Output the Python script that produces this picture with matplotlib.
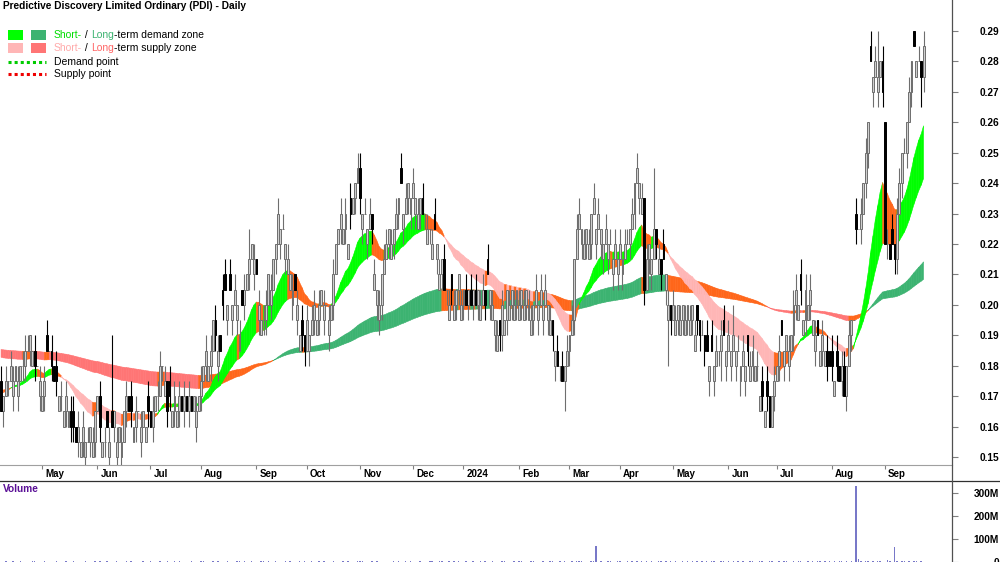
import numpy as np
import pandas as pd
import matplotlib
matplotlib.use("Agg")
import matplotlib.pyplot as plt
from matplotlib.collections import PolyCollection
from matplotlib.lines import Line2D
from matplotlib.patches import Rectangle
import matplotlib.transforms as mtransforms

plt.rcParams['font.family'] = ['Liberation Sans', 'DejaVu Sans']

TITLE = "Predictive Discovery Limited Ordinary (PDI) - Daily"
FIRST_DAY = "2023-04-06"

# daily closes, thousandths of a dollar
close_m = [
    165, 170, 175, 175, 180, 175, 180, 175, 180, 180,
    185, 185, 190, 185, 180, 180, 175, 170, 175, 185,
    185, 180, 175, 175, 170, 170, 165, 170, 165, 160,
    160, 155, 160, 155, 160, 155, 155, 160, 155, 165,
    170, 160, 155, 155, 160, 155, 160, 165, 155, 160,
    155, 165, 170, 165, 165, 160, 165, 165, 160, 165,
    160, 165, 160, 165, 170, 170, 180, 180, 175, 165,
    170, 165, 170, 165, 170, 165, 170, 165, 170, 165,
    170, 165, 170, 175, 180, 185, 180, 185, 195, 190,
    185, 185, 200, 205, 200, 205, 200, 205, 200, 190,
    200, 205, 210, 215, 220, 215, 210, 200, 195, 195,
    200, 210, 205, 215, 220, 230, 225, 225, 220, 215,
    210, 205, 205, 200, 190, 190, 185, 195, 190, 195,
    200, 195, 200, 205, 200, 200, 195, 200, 210, 220,
    225, 230, 225, 230, 220, 230, 235, 240, 245, 235,
    230, 230, 225, 230, 225, 210, 205, 200, 210, 215,
    220, 225, 220, 225, 230, 235, 240, 230, 235, 240,
    235, 240, 235, 230, 235, 230, 230, 225, 225, 220,
    225, 220, 210, 215, 205, 205, 200, 205, 200, 205,
    210, 200, 205, 200, 205, 200, 205, 200, 205, 200,
    205, 200, 210, 205, 200, 195, 190, 190, 200, 195,
    205, 200, 205, 200, 205, 200, 205, 200, 205, 200,
    195, 200, 205, 200, 205, 200, 205, 200, 195, 190,
    185, 180, 180, 175, 180, 185, 190, 195, 215, 225,
    230, 225, 220, 225, 220, 230, 235, 225, 230, 225,
    220, 225, 220, 220, 215, 220, 215, 220, 215, 220,
    220, 225, 230, 240, 245, 240, 235, 205, 215, 220,
    215, 225, 220, 215, 210, 215, 210, 200, 195, 200,
    195, 200, 195, 200, 195, 200, 195, 200, 190, 195,
    190, 190, 185, 185, 180, 185, 180, 185, 185, 190,
    190, 185, 190, 185, 190, 185, 185, 180, 185, 180,
    185, 180, 185, 180, 180, 170, 170, 165, 170, 160,
    170, 175, 180, 185, 190, 185, 190, 185, 190, 200,
    205, 200, 205, 195, 205, 200, 205, 195, 190, 190,
    185, 190, 185, 180, 180, 180, 175, 180, 175, 180,
    170, 180, 190, 195, 195, 225, 225, 230, 240, 250,
    260, 280, 275, 280, 275, 280, 270, 220, 220, 215,
    220, 215, 230, 240, 250, 250, 260, 270, 280, 285,
    280, 280, 275, 285,
]
# bars drawn as black (falling) candles
black_bars = [0, 14, 19, 21, 22, 23, 29, 30, 31, 41, 44, 46, 53, 54, 61, 62,
              69, 70, 75, 77, 79, 89, 91, 92, 93, 95, 100, 106, 122, 125, 126,
              145, 149, 154, 166, 175, 180, 184, 187, 193, 195, 197, 201, 202,
              207, 229, 231, 233, 267, 272, 274, 275, 278, 289, 290, 292, 293,
              295, 300, 310, 316, 318, 319, 324, 332, 339, 343, 344, 345, 347,
              348, 350, 355, 361, 366, 367, 369, 370, 371, 379, 382]
# opens that are read directly (index, thousandths)
gap_opens = [(0, 175), (355, 230), (367, 260)]
# wick length above / below the body, in 0.005 ticks
hi_ext = "".join([
    "1010110101", "1100101011", "0101010101", "1010101010", "0101015010",
    "1010101010", "0101011010", "1010101010", "0101010101", "1011010101",
    "0102010101", "1010010101", "0101010101", "1010101010", "0101010011",
    "0101010101", "1010101010", "0101010101", "1010101010", "0101010101",
    "1010101010", "0101010101", "1010101010", "0101010101", "1010101010",
    "0101010101", "1010101010", "0401010101", "1010101010", "0101010101",
    "1010201010", "0110101010", "0101000101", "1010101010", "0101010101",
    "1010010101", "0101301010", "1011010100", "0101",
])
lo_ext = "".join([
    "0101010101", "1010101010", "0101010101", "1010110101", "0101010110",
    "1010101010", "0101010101", "1010101010", "0101010101", "1010101010",
    "0101010101", "1010101010", "0101011010", "1010101010", "0101010101",
    "1010101110", "0101010101", "1010101010", "0101010101", "1010101010",
    "0101010110", "1010101010", "0101010101", "1010201010", "0101010101",
    "1010101010", "0101010101", "1010101310", "0101010101", "1010101012",
    "0101010101", "1010101010", "0101010101", "1010101010", "0101010101",
    "0101010101", "1010101010", "0110101010", "0021",
])
# daily volume, millions of shares
vol_m = "".join([
    "2130241032", "1203410231", "0213201402", "3102031204", "1302402130",
    "2041302103", "1032104213", "0241302103", "2103410230", "4102321043",
    "2310420135", "1302410230", "3120423104", "2031402130", "1240312043",
    "3021403120", "2103241032", "4120312043", "2134023142", "3203124203",
    "1320412034", "2103243120", "3412032143", "2031420313", "3420134213",
    "2143023412", "3241324231", "4213423142", "3124231423", "2413243124",
    "3142324132", "2431243214", "3214234123", "2342132413", "4231324143",
    "2314231423", "3241342134", "2431432413", "3241",
])
vol_spikes = [(247, 70), (355, 330), (356, 15), (368, 10), (371, 65)]

price_ticks = [0.15, 0.16, 0.17, 0.18, 0.19, 0.20, 0.21, 0.22, 0.23,
               0.24, 0.25, 0.26, 0.27, 0.28, 0.29]
vol_ticks = [0, 100, 200, 300]
vol_tick_labels = ["0", "100M", "200M", "300M"]

SHORT_SPANS, SHORT_SEEDS = (20, 40), (0.172, 0.1725)
LONG_SPANS, LONG_SEEDS = (150, 250), (0.183, 0.1855)

C_SHORT_DEM, C_LONG_DEM = "#00FF00", "#3CB371"
C_SHORT_SUP, C_LONG_SUP = "#FFB6B6", "#FF7575"
C_MIX = "#FF661A"

# ---------------------------------------------------------------
N = len(close_m)
dates = pd.bdate_range(FIRST_DAY, periods=N)
TICK = 0.005
close = np.array(close_m, float) / 1000
prev = np.r_[close[0], close[:-1]]
is_black = np.zeros(N, bool)
is_black[[b for b in black_bars if b < N]] = True
open_ = np.where(is_black, np.maximum(prev, close + TICK),
                 np.where(close >= prev, prev, close - TICK))
for i, o in gap_opens:
    open_[i] = o / 1000
hx = np.array([int(c) for c in hi_ext[:N].ljust(N, "0")])
lx = np.array([int(c) for c in lo_ext[:N].ljust(N, "0")])
high = np.maximum(open_, close) + hx * TICK
low = np.minimum(open_, close) - lx * TICK
vol = np.array([int(c) for c in vol_m[:N].ljust(N, "1")], float)
for i, v in vol_spikes:
    vol[i] = v
vol *= 1e6


def ema(v, span, seed):
    a = 2.0 / (span + 1)
    out = np.empty(len(v))
    p = seed
    for k, val in enumerate(v):
        p = p + a * (val - p)
        out[k] = p
    return out


W, H = 1000, 562
fig = plt.figure(figsize=(W / 100, H / 100), dpi=100)
ax = fig.add_axes([0, 1 - 465 / H, 952 / W, 465 / H])
axv = fig.add_axes([0, 0, 952 / W, (562 - 481) / H])

# x mapping: May 1 2023 at 42 px, Sep 2 2024 at 885 px
i_a = int(np.searchsorted(dates, pd.Timestamp("2023-05-01")))
i_b = int(np.searchsorted(dates, pd.Timestamp("2024-09-02")))
ppb = (885 - 42) / (i_b - i_a)
xl = i_a - 42 / ppb
xr = xl + 952 / ppb
for a_ in (ax, axv):
    a_.set_xlim(xl, xr)
ax.set_ylim(0.15 - 8 / 3040, 0.29 + 31 / 3040)
axv.set_ylim(0, 81 / 23 * 100e6)

x = np.arange(N)


def zone(fast, slow, c_dem, c_sup, z):
    polys, cols = [], []
    for k in range(N - 1):
        polys.append([(k, fast[k]), (k + 1, fast[k + 1]),
                      (k + 1, slow[k + 1]), (k, slow[k])])
        rising = fast[k + 1] >= fast[k]
        if fast[k + 1] >= slow[k + 1] and rising:
            c = c_dem
        elif fast[k + 1] < slow[k + 1] and not rising:
            c = c_sup
        else:
            c = C_MIX
        cols.append(c)
    ax.add_collection(PolyCollection(polys, facecolors=cols, edgecolors=cols,
                                     linewidths=0.4, zorder=z))


lf = ema(close, LONG_SPANS[0], LONG_SEEDS[0])
ls = ema(close, LONG_SPANS[1], LONG_SEEDS[1])
sf = ema(close, SHORT_SPANS[0], SHORT_SEEDS[0])
ss = ema(close, SHORT_SPANS[1], SHORT_SEEDS[1])
zone(lf, ls, C_LONG_DEM, C_LONG_SUP, 1)
zone(sf, ss, C_SHORT_DEM, C_SHORT_SUP, 2)

# candles
up = ~is_black
wcol = np.where(up, "#6e6e6e", "#000000")
ax.vlines(x, low, high, colors=wcol, lw=0.8, zorder=3)
bh = np.abs(close - open_)
bb = np.minimum(close, open_)
ax.bar(x[up], bh[up], bottom=bb[up], width=0.8, facecolor="#cfcfcf",
       edgecolor="#6e6e6e", lw=0.7, zorder=4)
ax.bar(x[~up], bh[~up], bottom=bb[~up], width=0.65, facecolor="black",
       edgecolor="black", lw=0.7, zorder=4)

# volume
axv.bar(x, vol, width=0.6, color="#7878c8", zorder=2)

# axes styling
for a_ in (ax, axv):
    for s in ("top", "left", "right"):
        a_.spines[s].set_visible(False)
    a_.yaxis.tick_right()
    a_.tick_params(axis="y", direction="out", length=4, width=0.8,
                   color="#808080", labelsize=7.3, pad=29.8)
ax.spines["bottom"].set_color("#a0a0a0")
ax.spines["bottom"].set_linewidth(0.8)
axv.spines["bottom"].set_visible(False)
ax.set_yticks(price_ticks)
ax.set_yticklabels([f"{t:.2f}" for t in price_ticks], fontweight="bold",
                   ha="right")
axv.set_yticks([v * 1e6 for v in vol_ticks])
axv.set_yticklabels(vol_tick_labels, fontweight="bold", ha="right")

# month ticks
mstarts = [k for k in range(1, N) if dates[k].month != dates[k - 1].month]
ax.set_xticks(mstarts)
ax.set_xticklabels([])
ax.tick_params(axis="x", direction="out", length=3, width=0.8, color="#808080")
axv.set_xticks([])
trans = mtransforms.blended_transform_factory(ax.transData, ax.transAxes)
for k in mstarts:
    d = dates[k]
    lab = str(d.year) if d.month == 1 else d.strftime("%b")
    ax.annotate(lab, xy=(k, 0), xycoords=trans, xytext=(2.2, -6.6),
                textcoords="offset points", ha="left", va="center",
                fontsize=7, fontweight="bold", annotation_clip=False)

# frame lines
fig.add_artist(Line2D([0, 1], [1 - 480.5 / H] * 2, color="#303030", lw=0.9))
fig.add_artist(Line2D([952 / W] * 2, [0, 1], color="#505050", lw=0.9))

axv.text(3 / 952, 1 - 8 / 81, "Volume", transform=axv.transAxes,
         color="#5a0f96", fontsize=7.3, fontweight="bold", va="center",
         ha="left")

# title and legend
fig.text(3 / W, 1 - 6 / H, TITLE, fontsize=7.3, fontweight="bold",
         va="center", ha="left")
for (x0, x1, y0, y1, c) in [(8, 23, 30, 40, C_SHORT_DEM), (31, 46, 30, 40, C_LONG_DEM),
                            (8, 23, 43, 53, C_SHORT_SUP), (31, 46, 43, 53, C_LONG_SUP)]:
    fig.add_artist(Rectangle((x0 / W, 1 - y1 / H), (x1 - x0) / W, (y1 - y0) / H,
                             transform=fig.transFigure, facecolor=c, edgecolor="none"))
fig.add_artist(Line2D([8 / W, 46 / W], [1 - 62 / H] * 2, color="#00CC00",
                      lw=2.2, ls=(0, (1, 1))))
fig.add_artist(Line2D([8 / W, 46 / W], [1 - 74 / H] * 2, color="#EE0000",
                      lw=2.2, ls=(0, (1, 1))))

renderer = fig.canvas.get_renderer()


def seq_text(x_px, y_px, parts):
    xx = x_px
    for s, col in parts:
        t = fig.text(xx / W, 1 - y_px / H, s, color=col, fontsize=7.5,
                     va="center", ha="left")
        xx += t.get_window_extent(renderer=renderer).width


seq_text(54, 35, [("Short-", "#00DD00"), (" / ", "black"), ("Long", "#3CB371"),
                  ("-term demand zone", "black")])
seq_text(54, 48, [("Short-", "#FFAAAA"), (" / ", "black"), ("Long", "#FF6666"),
                  ("-term supply zone", "black")])
seq_text(54, 62, [("Demand point", "black")])
seq_text(54, 74, [("Supply point", "black")])

fig.savefig("out.png", dpi=100)
